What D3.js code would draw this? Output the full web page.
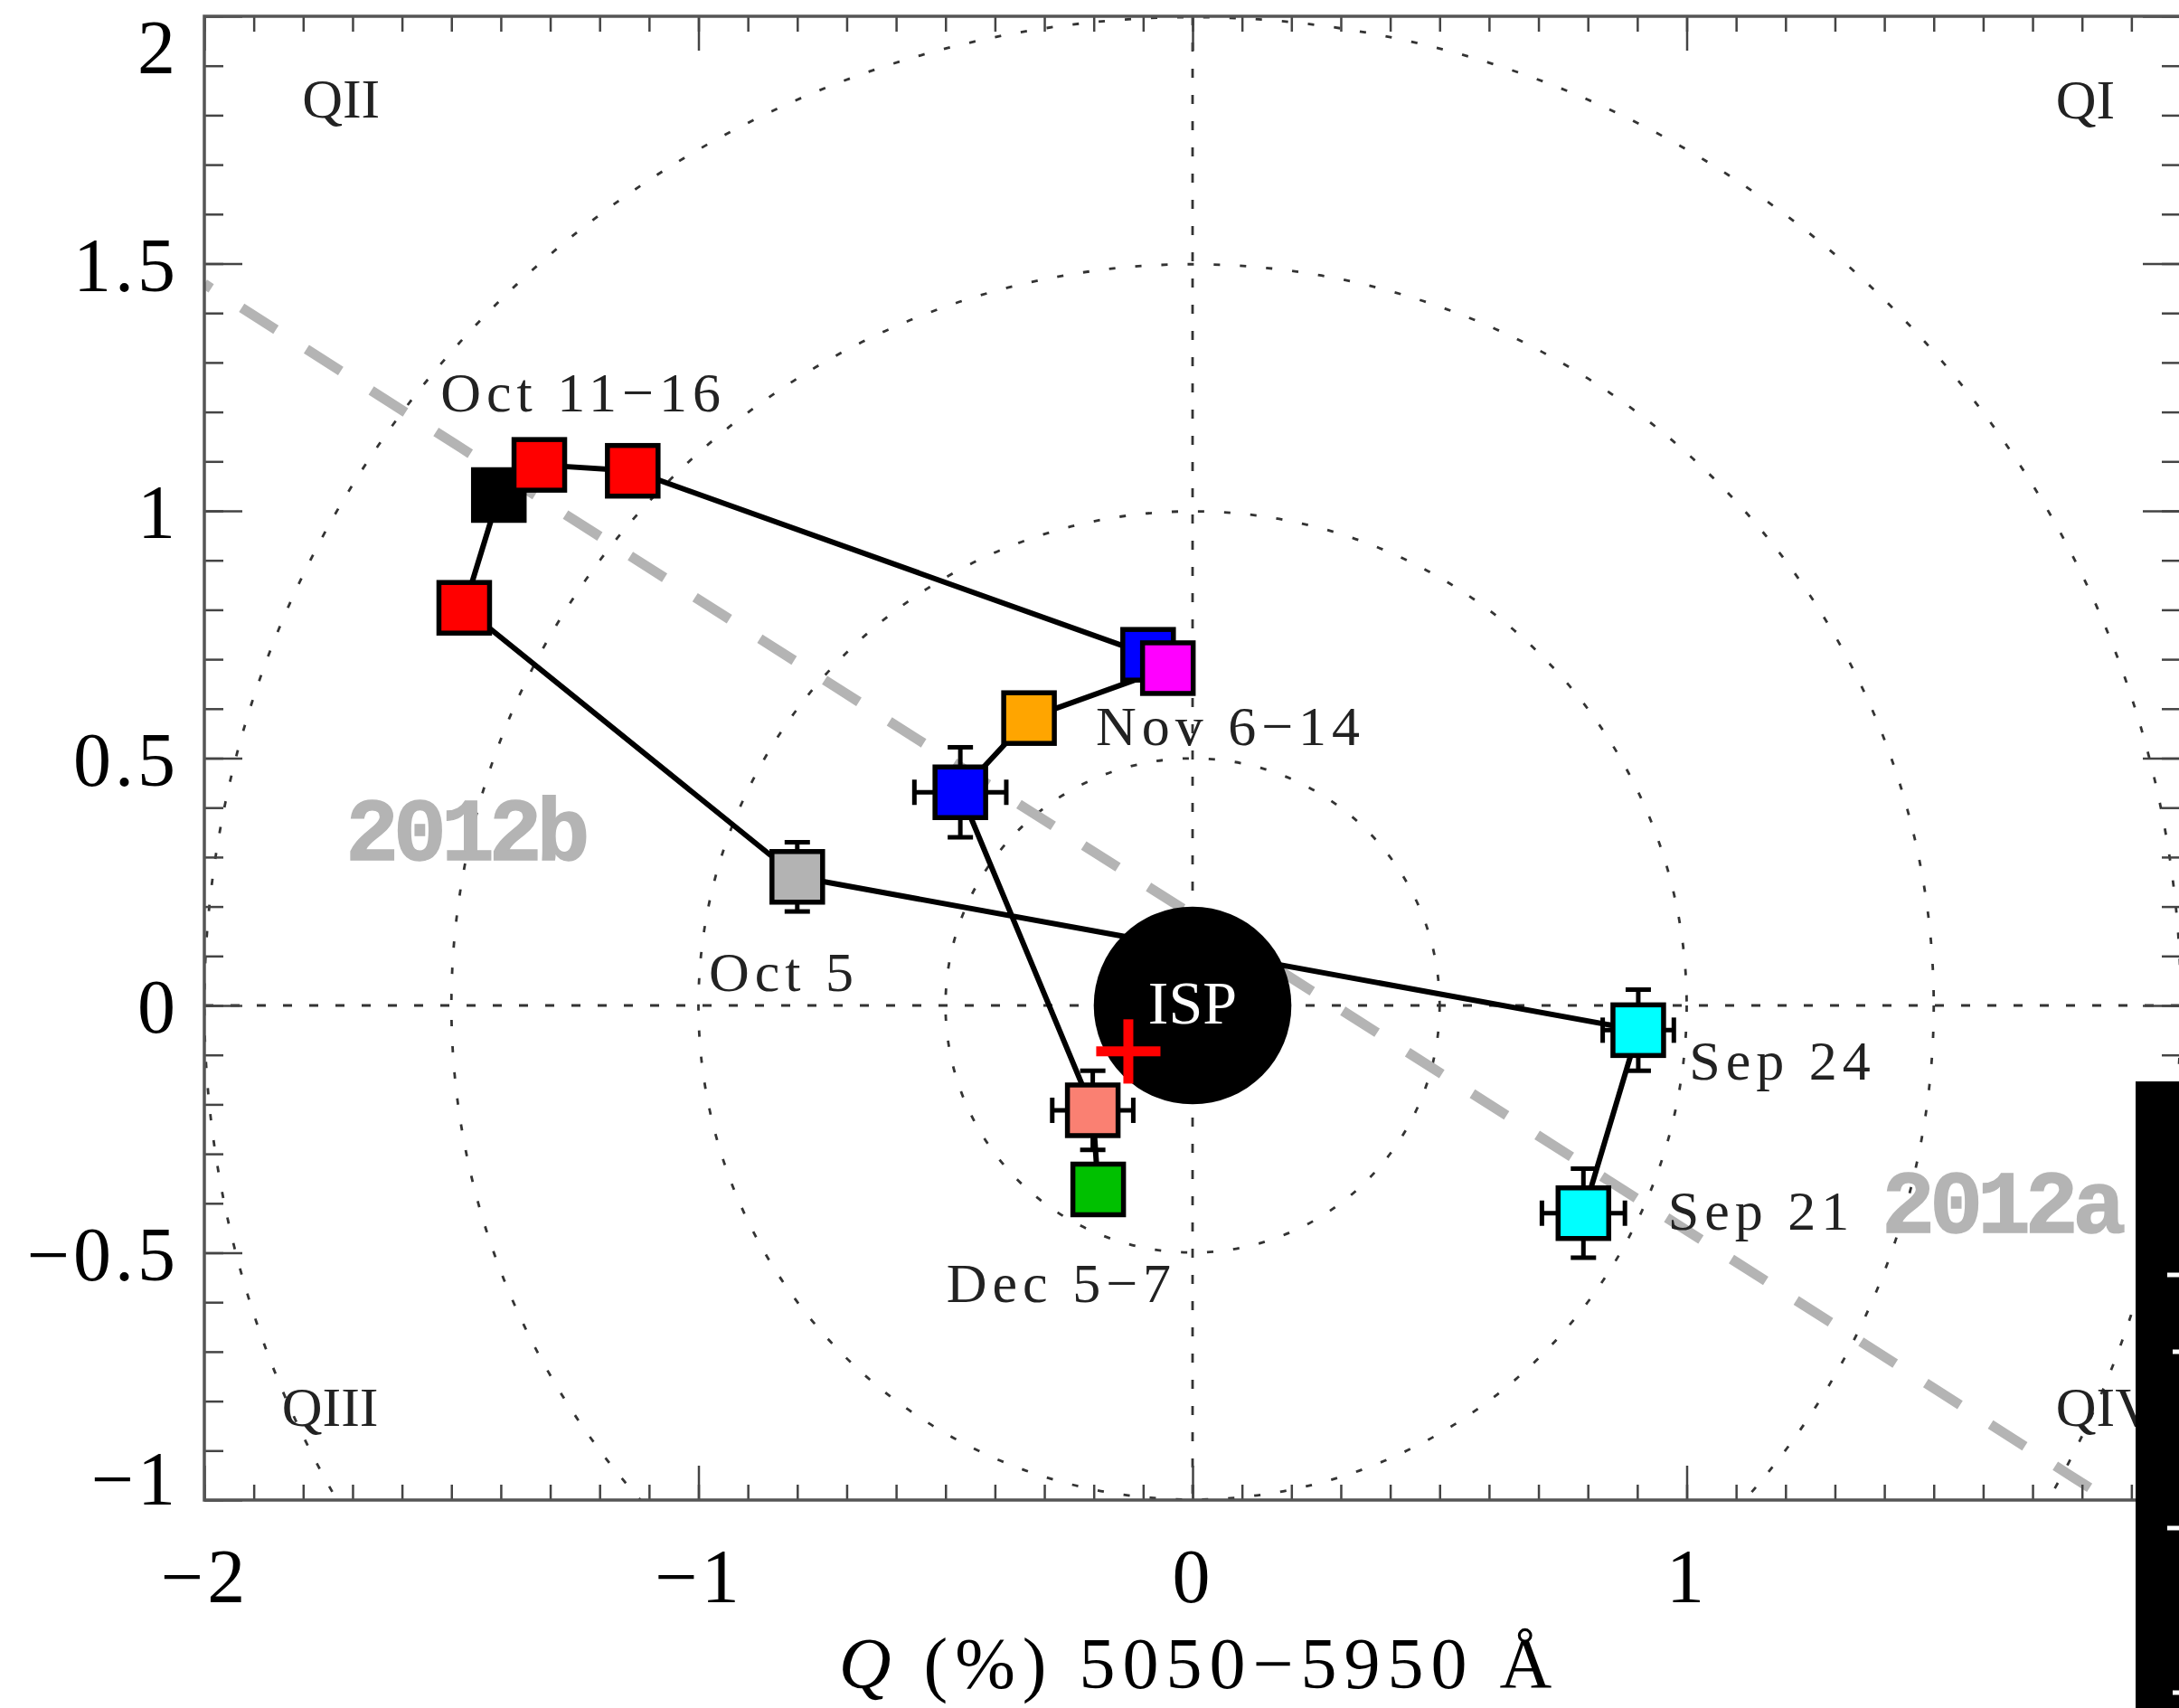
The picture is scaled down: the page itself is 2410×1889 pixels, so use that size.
<html>

<head>
    <meta charset="utf-8">
    <script src="https://d3js.org/d3.v7.min.js"></script>
    <style>
        body { margin: 0; background: #ffffff; }
    </style>
</head>

<body>
    <div id="my_dataviz"></div>
</body>
<script>

    // polarization points, in the order the path joins them
    var qVals = [0.791, 0.902, -0.800, -1.474, -1.404, -1.322, -1.133, -0.090, -0.050, -0.331, -0.470, -0.202, -0.191];
    var uVals = [-0.420, -0.050, 0.260, 0.804, 1.032, 1.093, 1.081, 0.709, 0.682, 0.581, 0.431, -0.212, -0.372];
    var qErr = [0.084, 0.072, 0.030, 0.020, 0.020, 0.020, 0.020, 0.020, 0.020, 0.020, 0.093, 0.082, 0.020];
    var uErr = [0.090, 0.082, 0.070, 0.020, 0.020, 0.020, 0.020, 0.020, 0.020, 0.020, 0.091, 0.080, 0.020];
    var fillColors = ["#00ffff", "#00ffff", "#b3b3b3", "#ff0000", "#000000", "#ff0000", "#ff0000",
        "#0000ff", "#ff00ff", "#ffa500", "#0000ff", "#fa8072", "#00c000"];

    // date labels (anchor = left end of the baseline)
    var labelTexts = ["Sep 21", "Sep 24", "Oct 5", "Oct 11\u221216", "Nov 6\u221214", "Dec 5\u22127"];
    var labelQ = [0.962, 1.005, -0.979, -1.522, -0.196, -0.498];
    var labelU = [-0.453, -0.150, 0.029, 1.201, 0.527, -0.600];

    // quadrant names
    var quadTexts = ["QI", "QII", "QIII", "QIV"];
    var quadQ = [1.747, -1.802, -1.843, 1.747];
    var quadU = [1.793, 1.795, -0.850, -0.850];

    // epoch names along the grey dashed axis
    var epochTexts = ["2012a", "2012b"];
    var epochQ = [1.395, -1.714];
    var epochU = [-0.459, 0.294];
    var grayLineQ = [-2, 2];
    var grayLineU = [1.459, -1.093];

    // interstellar polarization and the red cross
    var ringRadii = [0.5, 1, 1.5, 2];
    var ispQ = 0, ispU = 0, ispRadius = 0.2;
    var crossQ = -0.130, crossU = -0.093, crossArm = 0.065;

    // ticks
    var xMajorTicks = [-2, -1, 0, 1, 2];
    var yMajorTicks = [-1, -0.5, 0, 0.5, 1, 1.5, 2];
    var xMinorTicks = d3.range(-20, 21).map(function (d) { return d / 10; });
    var yMinorTicks = d3.range(-10, 21).map(function (d) { return d / 10; });

    var width = 2410, height = 1889;

    var svg = d3.select("#my_dataviz")
        .append("svg")
        .attr("width", width)
        .attr("height", height)
        .style("display", "block");

    var x = d3.scaleLinear().domain([-2, 2]).range([226, 2412]);
    var y = d3.scaleLinear().domain([-1, 2]).range([1659, 18]);

    // labels with a true minus; the Q = 2 label falls outside the picture
    var minusFmt = function (d) { return d < 0 ? "\u2212" + Math.abs(d) : String(d); };
    var xFmt = function (d) { return d === 2 ? "" : minusFmt(d); };

    svg.append("clipPath")
        .attr("id", "plotclip")
        .append("rect")
        .attr("x", x(-2))
        .attr("y", y(2))
        .attr("width", x(2) - x(-2))
        .attr("height", y(-1) - y(2));

    var plot = svg.append("g").attr("clip-path", "url(#plotclip)");

    // dotted rings and zero lines
    plot.selectAll(".ring")
        .data(ringRadii)
        .enter()
        .append("circle")
        .attr("cx", x(0))
        .attr("cy", y(0))
        .attr("r", function (d) { return x(d) - x(0); })
        .style("fill", "none")
        .style("stroke", "#333")
        .style("stroke-width", 2.8)
        .style("stroke-dasharray", "7,22");

    plot.append("line")
        .attr("x1", x(0)).attr("x2", x(0))
        .attr("y1", y(2)).attr("y2", y(-1))
        .style("stroke", "#333")
        .style("stroke-width", 2.8)
        .style("stroke-dasharray", "10,19");

    plot.append("line")
        .attr("x1", x(-2)).attr("x2", x(2))
        .attr("y1", y(0)).attr("y2", y(0))
        .style("stroke", "#333")
        .style("stroke-width", 2.8)
        .style("stroke-dasharray", "10,19");

    // grey dashed line
    plot.append("line")
        .attr("x1", x(grayLineQ[0])).attr("y1", y(grayLineU[0]))
        .attr("x2", x(grayLineQ[1])).attr("y2", y(grayLineU[1]))
        .style("stroke", "#b4b4b4")
        .style("stroke-width", 11)
        .style("stroke-dasharray", "45,40")
        .style("stroke-dashoffset", 36);

    plot.selectAll(".epoch")
        .data(epochTexts)
        .enter()
        .append("text")
        .attr("x", function (d, i) { return x(epochQ[i]); })
        .attr("y", function (d, i) { return y(epochU[i]); })
        .style("font-family", "Liberation Mono")
        .style("font-weight", "bold")
        .style("font-size", "98px")
        .style("letter-spacing", "-6px")
        .style("fill", "#b4b4b4")
        .style("stroke", "#b4b4b4")
        .style("stroke-width", 1.5)
        .text(function (d) { return d; });

    // the path through the epochs
    var line = d3.line()
        .x(function (d, i) { return x(qVals[i]); })
        .y(function (d, i) { return y(uVals[i]); });

    plot.append("path")
        .attr("d", line(qVals))
        .style("fill", "none")
        .style("stroke", "#000")
        .style("stroke-width", 6)
        .style("stroke-linejoin", "round");

    // ISP disc and red cross
    plot.append("circle")
        .attr("cx", x(ispQ))
        .attr("cy", y(ispU))
        .attr("r", x(ispRadius) - x(0))
        .style("fill", "#000");

    plot.append("text")
        .attr("x", x(ispQ))
        .attr("y", y(ispU) + 20)
        .attr("text-anchor", "middle")
        .style("font-family", "Liberation Serif")
        .style("font-size", "68px")
        .style("fill", "#fff")
        .text("ISP");

    plot.append("line")
        .attr("x1", x(crossQ - crossArm)).attr("x2", x(crossQ + crossArm))
        .attr("y1", y(crossU)).attr("y2", y(crossU))
        .style("stroke", "#ff0000")
        .style("stroke-width", 11);
    plot.append("line")
        .attr("x1", x(crossQ)).attr("x2", x(crossQ))
        .attr("y1", y(crossU - crossArm)).attr("y2", y(crossU + crossArm))
        .style("stroke", "#ff0000")
        .style("stroke-width", 11);

    // error bars and squares, one group per point so later points sit on top
    var cap = 14, half = 28;
    var pts = plot.selectAll(".pt")
        .data(qVals)
        .enter()
        .append("g");

    pts.each(function (d, i) {
        var g = d3.select(this);
        var cx = x(qVals[i]), cy = y(uVals[i]);
        var xl = x(qVals[i] - qErr[i]), xr = x(qVals[i] + qErr[i]);
        var yt = y(uVals[i] + uErr[i]), yb = y(uVals[i] - uErr[i]);
        var segs = [
            [xl, cy, xr, cy], [xl, cy - cap, xl, cy + cap], [xr, cy - cap, xr, cy + cap],
            [cx, yt, cx, yb], [cx - cap, yt, cx + cap, yt], [cx - cap, yb, cx + cap, yb]
        ];
        g.selectAll("line")
            .data(segs)
            .enter()
            .append("line")
            .attr("x1", function (s) { return s[0]; })
            .attr("y1", function (s) { return s[1]; })
            .attr("x2", function (s) { return s[2]; })
            .attr("y2", function (s) { return s[3]; })
            .style("stroke", "#000")
            .style("stroke-width", 5);
        g.append("rect")
            .attr("x", cx - half)
            .attr("y", cy - half)
            .attr("width", 2 * half)
            .attr("height", 2 * half)
            .style("fill", fillColors[i])
            .style("stroke", "#000")
            .style("stroke-width", 5.5);
    });

    // date labels and quadrant names
    plot.selectAll(".lab")
        .data(labelTexts)
        .enter()
        .append("text")
        .attr("x", function (d, i) { return x(labelQ[i]); })
        .attr("y", function (d, i) { return y(labelU[i]); })
        .style("font-family", "Liberation Serif")
        .style("font-size", "62px")
        .style("letter-spacing", "6px")
        .style("fill", "#222")
        .text(function (d) { return d; });

    plot.selectAll(".quad")
        .data(quadTexts)
        .enter()
        .append("text")
        .attr("x", function (d, i) { return x(quadQ[i]); })
        .attr("y", function (d, i) { return y(quadU[i]); })
        .style("font-family", "Liberation Serif")
        .style("font-size", "62px")
        .style("fill", "#222")
        .text(function (d) { return d; });

    // axes: minor ticks, then major ticks with labels
    function styleAxis(g) {
        g.select(".domain").remove();
        g.selectAll(".tick line").style("stroke", "#444").style("stroke-width", 2.5);
        g.selectAll("text")
            .style("font-family", "Liberation Serif")
            .style("font-size", "84px")
            .style("letter-spacing", "4px")
            .style("fill", "#000");
    }

    var axes = [
        { make: d3.axisBottom, pos: "translate(0," + y(-1) + ")", sc: x, minor: xMinorTicks, major: xMajorTicks, lo: 17, hi: 38, fmt: xFmt, pad: 53 },
        { make: d3.axisTop, pos: "translate(0," + y(2) + ")", sc: x, minor: xMinorTicks, major: xMajorTicks, lo: 17, hi: 38, fmt: "" },
        { make: d3.axisLeft, pos: "translate(" + x(-2) + ",0)", sc: y, minor: yMinorTicks, major: yMajorTicks, lo: 21, hi: 42, fmt: minusFmt, pad: 28 },
        { make: d3.axisRight, pos: "translate(" + x(2) + ",0)", sc: y, minor: yMinorTicks, major: yMajorTicks, lo: 21, hi: 42, fmt: "" }
    ];

    axes.forEach(function (a) {
        svg.append("g")
            .attr("transform", a.pos)
            .call(a.make(a.sc).tickValues(a.minor).tickSize(-a.lo).tickFormat(""))
            .call(styleAxis);
        var gm = svg.append("g")
            .attr("transform", a.pos)
            .call(a.make(a.sc).tickValues(a.major).tickSize(-a.hi)
                .tickPadding(a.pad || 0)
                .tickFormat(a.fmt))
            .call(styleAxis);
        if (a.make === d3.axisLeft) {
            // end labels are pulled inside the frame
            gm.selectAll(".tick text")
                .attr("y", function (d) { return d === 2 ? 36 : (d === -1 ? -22 : 3); });
        }
        if (a.fmt === "") gm.selectAll(".tick text").remove();
    });

    // frame
    svg.append("rect")
        .attr("x", x(-2))
        .attr("y", y(2))
        .attr("width", x(2) - x(-2))
        .attr("height", y(-1) - y(2))
        .style("fill", "none")
        .style("stroke", "#555")
        .style("stroke-width", 3.5);

    // x axis title
    var title = svg.append("text")
        .attr("x", x(0) + 7)
        .attr("y", 1867)
        .attr("text-anchor", "middle")
        .style("font-family", "Liberation Serif")
        .style("font-size", "80px")
        .style("letter-spacing", "8px")
        .style("fill", "#000");
    title.append("tspan").style("font-style", "italic").text("Q");
    title.append("tspan").text(" (%) 5050\u22125950 \u00c5");

    // edge of the neighbouring panel, cut by the crop
    var edge = svg.append("g");
    edge.append("rect")
        .attr("x", 2362).attr("y", 1196)
        .attr("width", 48).attr("height", 693)
        .style("fill", "#000");
    [1410, 1495, 1690, 1872].forEach(function (ty, k) {
        edge.append("rect")
            .attr("x", k % 2 ? 2403 : 2397).attr("y", ty - 2.5)
            .attr("width", 13).attr("height", 5)
            .style("fill", "#fff");
    });

</script>

</html>
